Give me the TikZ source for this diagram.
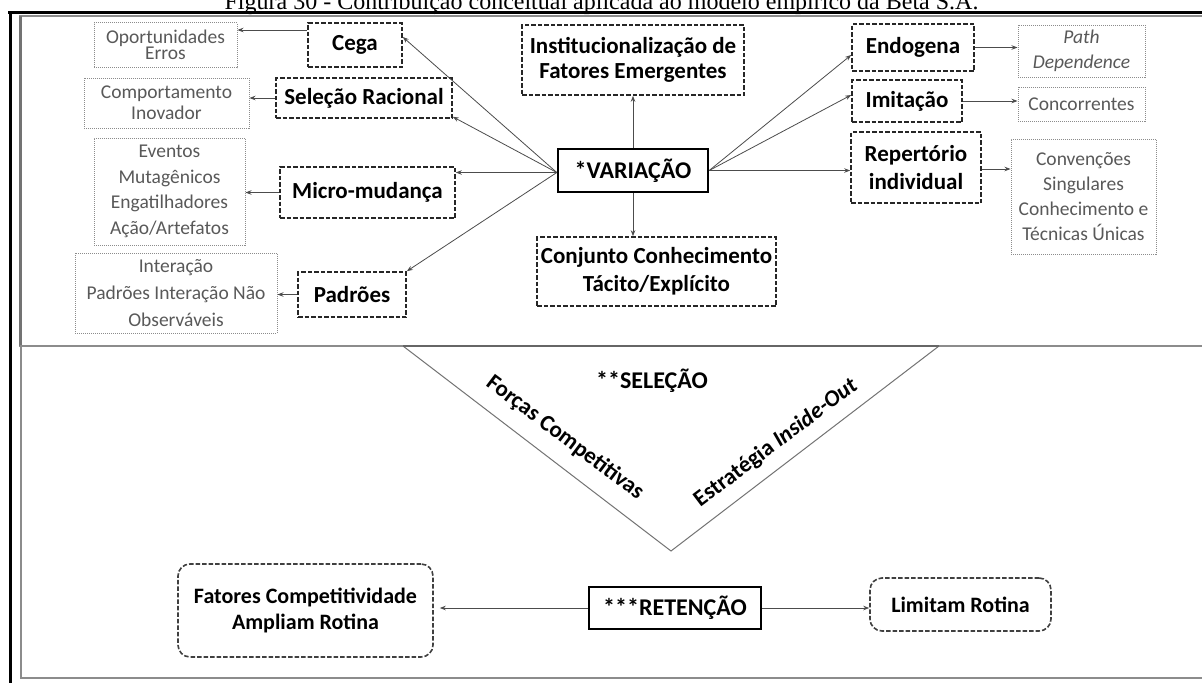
\documentclass[tikz,border=0pt]{standalone}
\usepackage{fontspec}
\setmainfont{Carlito}
\newfontfamily\titlefont{Liberation Serif}
\usetikzlibrary{arrows.meta}

\tikzset{
  mainbox/.style={draw=black, line width=2.4pt, inner sep=0pt,
    font=\bfseries\fontsize{24}{28}\selectfont},
  dbox/.style={draw=black!85, line width=1.6pt, dash pattern=on 4.5pt off 2pt,
    inner sep=0pt, align=center, font=\bfseries\fontsize{23}{28}\selectfont},
  gbox/.style={draw=black!45, line width=1pt, dash pattern=on 1pt off 1pt,
    inner sep=0pt, align=center, text=black!65,
    font=\fontsize{19.5}{25}\selectfont},
  rbox/.style={dbox, draw=black!75, rounded corners=12pt},
  boxsize/.style 2 args={minimum width=#1pt, minimum height=#2pt},
  arr/.style={-{Stealth[length=6pt,width=4.5pt]}, draw=black!70, line width=0.8pt},
  frameline/.style={draw=black!45, line width=1.5pt},
}

\begin{document}
\begin{tikzpicture}[x=1pt, y=-1pt]
  \clip (0,0) rectangle (1202,683);
  \fill[white] (0,0) rectangle (1202,683);

  % caption line, cut by the top of the page
  \node[anchor=base, inner sep=0pt, font=\titlefont\fontsize{24}{28}\selectfont]
    (caption) at (601.5,9) {Figura 30 - Contribuição conceitual aplicada ao modelo empírico da Beta S.A.};

  % table rules
  \draw[line width=3pt] (8,12.5) -- (1202,12.5);
  \draw[line width=3pt] (10.5,11) -- (10.5,683);

  % upper panel
  \draw[frameline] (1203,16) -- (20,16) -- (20,346) -- (1203,346);
  \draw[draw=black!55, line width=3pt] (20,16) -- (20,346);
  % lower panel
  \draw[frameline] (1203,346) -- (21,346) -- (21,678) -- (1203,678);

  % ---------- VARIACAO ----------
  \node[mainbox, boxsize={150}{43}] (var) at (633,170.5) {*VARIAÇÃO};

  \node[dbox, boxsize={94}{44}]  (cega)  at (355,45)    {Cega};
  \node[dbox, boxsize={176}{40}] (sel)   at (364,98)    {Seleção Racional};
  \node[dbox, boxsize={175}{51}] (micro) at (367.5,192.5) {Micro-mudança};
  \node[dbox, boxsize={108}{45}] (pad)   at (352,294.5) {Padrões};
  \node[dbox, boxsize={222}{70}, font=\bfseries\fontsize{23}{25}\selectfont]
    (inst) at (633,60) {Institucionalização de\\Fatores Emergentes};
  \node[dbox, boxsize={239}{69}] (conj)  at (656.5,271.5) {Conjunto Conhecimento\\Tácito/Explícito};
  \node[dbox, boxsize={122}{47}] (endo)  at (913,47.5)  {Endogena};
  \node[dbox, boxsize={110}{42}] (imit)  at (907,101)   {Imitação};
  \node[dbox, boxsize={130}{71}] (rep)   at (916,167.5) {Repertório\\individual};

  \node[gbox, boxsize={143}{45}, font=\fontsize{19.5}{16}\selectfont]
    (op) at (165.5,45) {Oportunidades\\Erros};
  \node[gbox, boxsize={165}{50}, font=\fontsize{19.5}{21}\selectfont]
    (comp) at (166.5,103) {Comportamento\\Inovador};
  \node[gbox, boxsize={151}{107}, font=\fontsize{19.5}{25.5}\selectfont]
    (ev) at (169.5,191.5) {Eventos\\Mutagênicos\\Engatilhadores\\Ação/Artefatos};
  \node[gbox, boxsize={202}{80}, font=\fontsize{19.5}{27}\selectfont]
    (inter) at (176,293) {Interação\\Padrões Interação Não\\Observáveis};
  \node[gbox, boxsize={127}{52}, font=\itshape\fontsize{19.5}{25}\selectfont]
    (path) at (1081.5,51) {Path\\Dependence};
  \node[gbox, boxsize={127}{34}] (conc) at (1081.5,104) {Concorrentes};
  \node[gbox, boxsize={145}{115}] (conv) at (1083.5,196.5)
    {Convenções\\Singulares\\Conhecimento e\\Técnicas Únicas};

  % branches leaving VARIACAO
  \coordinate (vl) at ([yshift=-2pt]var.west);
  \draw[arr] (vl) -- ([yshift=8pt]cega.east);
  \draw[arr] (vl) -- ([yshift=2pt]sel.south east);
  \draw[arr] (vl) -- (vl -| micro.east);
  \draw[arr] (vl) -- (pad.north east);
  \draw[arr] (var.north) -- (var.north |- inst.south);
  \draw[arr] (var.south) -- (var.south |- conj.north);
  \draw[arr] (var.east) -- ([yshift=-7.5pt]endo.west);
  \draw[arr] (var.east) -- ([yshift=6pt]imit.west);
  \draw[arr] (var.east) -- (var.east -| rep.west);

  % second-level links
  \draw[arr] ([yshift=15pt]cega.west) -- ([yshift=15pt]cega.west -| op.east);
  \draw[arr] (sel.west) -- (sel.west -| comp.east);
  \draw[arr] (micro.west) -- (micro.west -| ev.east);
  \draw[arr] (pad.west) -- (pad.west -| inter.east);
  \draw[arr] (endo.east) -- (endo.east -| path.west);
  \draw[arr] (imit.east) -- (imit.east -| conc.west);
  \draw[arr] ([yshift=-1.5pt]rep.east) -- ([yshift=-1.5pt]rep.east -| conv.west);

  % ---------- SELECAO ----------
  \coordinate (tl) at (403,346);
  \coordinate (tr) at (939,346);
  \coordinate (apex) at (671,551);
  \draw[draw=black!55, line width=1pt, line join=miter] (tl) -- (apex) -- (tr);
  \draw[draw=black!60, line width=2.2pt] (tl) -- (tr);

  \node[font=\bfseries\fontsize{24}{28}\selectfont] (sel2) at (652,381) {**SELEÇÃO};
  \node[font=\bfseries\fontsize{23}{28}\selectfont, rotate=-37] (forcas) at (565,438)
    {Forças Competitivas};
  \node[font=\bfseries\fontsize{23}{28}\selectfont, rotate=37] (estr) at (776,443)
    {Estratégia \textit{Inside-Out}};

  % ---------- RETENCAO ----------
  \node[mainbox, boxsize={172}{42}] (ret) at (675,608) {***RETENÇÃO};
  \node[rbox, boxsize={255}{93}, font=\bfseries\fontsize{22}{26}\selectfont]
    (fat) at (305.5,610.5) {Fatores Competitividade\\Ampliam Rotina};
  \node[rbox, boxsize={181}{53}, font=\bfseries\fontsize{22}{26}\selectfont]
    (lim) at (960.5,604.5) {Limitam Rotina};

  \draw[arr, shorten >=6pt] (ret.west) -- (ret.west -| fat.east);
  \draw[arr] (ret.east) -- (ret.east -| lim.west);
\end{tikzpicture}
\end{document}
